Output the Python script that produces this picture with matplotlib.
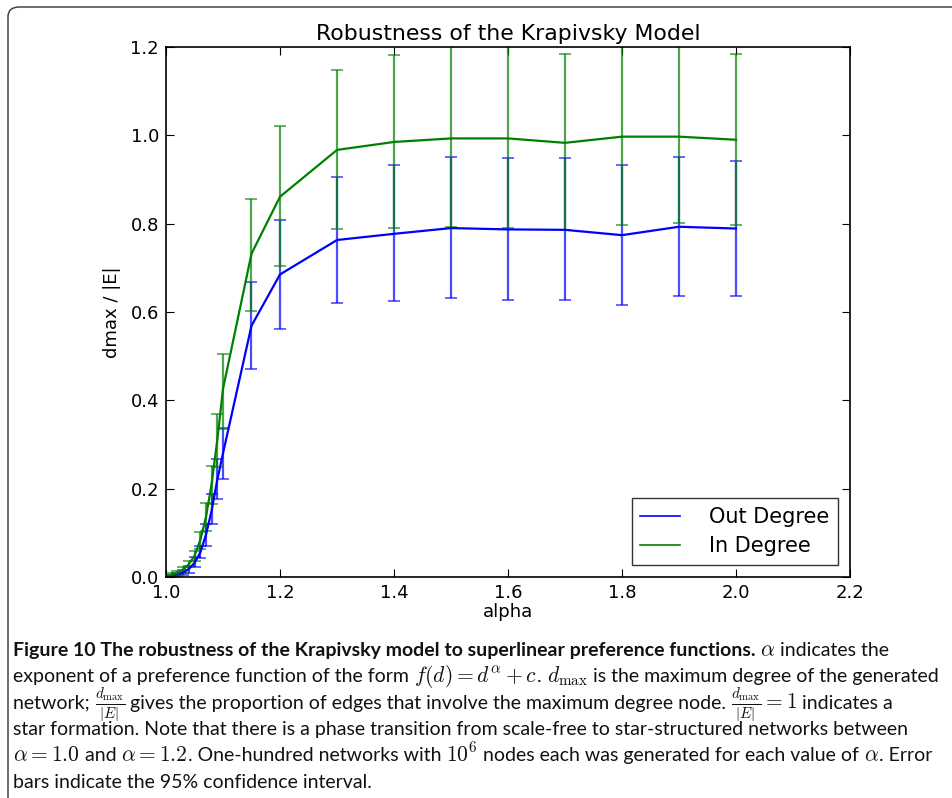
import matplotlib
matplotlib.use("Agg")
import matplotlib.pyplot as plt
from matplotlib.patches import FancyBboxPatch

# values
alpha = [1.00, 1.01, 1.02, 1.03, 1.04, 1.05, 1.06, 1.07, 1.08, 1.09, 1.10,
         1.15, 1.2, 1.3, 1.4, 1.5, 1.6, 1.7, 1.8, 1.9, 2.0]

out_mean = [0.001, 0.003, 0.006, 0.010, 0.018, 0.032, 0.055, 0.095, 0.150, 0.220, 0.280,
            0.569, 0.685, 0.763, 0.777, 0.790, 0.787, 0.786, 0.774, 0.793, 0.789]
out_lo = [0.000, 0.001, 0.003, 0.005, 0.010, 0.022, 0.042, 0.071, 0.120, 0.176, 0.222,
          0.472, 0.562, 0.621, 0.624, 0.632, 0.627, 0.627, 0.616, 0.637, 0.637]
out_hi = [0.002, 0.005, 0.009, 0.015, 0.026, 0.045, 0.071, 0.121, 0.187, 0.268, 0.337,
          0.667, 0.809, 0.905, 0.932, 0.951, 0.949, 0.949, 0.933, 0.951, 0.943]

in_mean = [0.002, 0.005, 0.009, 0.016, 0.029, 0.048, 0.083, 0.135, 0.210, 0.310, 0.426,
           0.732, 0.861, 0.967, 0.985, 0.993, 0.993, 0.983, 0.997, 0.997, 0.990]
in_lo = [0.000, 0.002, 0.004, 0.010, 0.022, 0.037, 0.064, 0.105, 0.166, 0.250, 0.336,
         0.602, 0.704, 0.787, 0.791, 0.793, 0.790, 0.785, 0.798, 0.801, 0.798]
in_hi = [0.004, 0.008, 0.014, 0.022, 0.037, 0.060, 0.103, 0.167, 0.252, 0.369, 0.505,
         0.856, 1.021, 1.148, 1.182, 1.21, 1.21, 1.185, 1.21, 1.21, 1.185]

x_ticks = [1.0, 1.2, 1.4, 1.6, 1.8, 2.0, 2.2]
y_ticks = [0.0, 0.2, 0.4, 0.6, 0.8, 1.0, 1.2]

caption_lines = [
    [("Figure 10 The robustness of the Krapivsky model to superlinear preference functions. ", "bold"),
     (r"$\alpha$", "normal"), (" indicates the", "normal")],
    [("exponent of a preference function of the form ", "normal"), (r"$f(d) = d^{\alpha} + c$", "normal"),
     (". ", "normal"), (r"$d_{\max}$", "normal"), (" is the maximum degree of the generated", "normal")],
    [("network; ", "normal"), (r"$\frac{d_{\max}}{|E|}$", "normal"),
     (" gives the proportion of edges that involve the maximum degree node. ", "normal"),
     (r"$\frac{d_{\max}}{|E|} = 1$", "normal"), (" indicates a", "normal")],
    [("star formation. Note that there is a phase transition from scale-free to star-structured networks between", "normal")],
    [(r"$\alpha = 1.0$", "normal"), (" and ", "normal"), (r"$\alpha = 1.2$", "normal"),
     (". One-hundred networks with ", "normal"), (r"$10^6$", "normal"),
     (" nodes each was generated for each value of ", "normal"), (r"$\alpha$", "normal"),
     (". Error", "normal")],
    [("bars indicate the 95% confidence interval.", "normal")],
]

plt.rcParams["mathtext.fontset"] = "cm"

W, H = 952, 798
fig = plt.figure(figsize=(W / 100, H / 100), dpi=100)

# rounded frame around figure + caption
frame = FancyBboxPatch((8 / W, -0.05), 1.2, 1.05 - 7 / H,
                       boxstyle="round,pad=0,rounding_size=0.012",
                       transform=fig.transFigure, facecolor="none",
                       edgecolor="#333333", linewidth=1.0)
fig.patches.append(frame)

ax = fig.add_axes([166 / W, 1 - 577 / H, 684 / W, 530 / H])

out_eb = ax.errorbar(alpha, out_mean,
                     yerr=[[m - l for m, l in zip(out_mean, out_lo)],
                           [h - m for m, h in zip(out_mean, out_hi)]],
                     color="#0000ff", ecolor="#0000ff", lw=1.6, elinewidth=1.6,
                     capsize=4, capthick=1.2)
in_eb = ax.errorbar(alpha, in_mean,
                    yerr=[[m - l for m, l in zip(in_mean, in_lo)],
                          [h - m for m, h in zip(in_mean, in_hi)]],
                    color="#008000", ecolor="#008000", lw=1.6, elinewidth=1.6,
                    capsize=4, capthick=1.2)
for c in (out_eb, in_eb):
    for part in c[2]:
        part.set_alpha(0.7)
    for cap in c[1]:
        cap.set_alpha(0.7)

ax.set_xlim(1.0, 2.2)
ax.set_ylim(0.0, 1.2)
ax.set_xticks(x_ticks)
ax.set_yticks(y_ticks)
ax.set_xticklabels([f"{v:.1f}" for v in x_ticks])
ax.set_yticklabels([f"{v:.1f}" for v in y_ticks])
ax.tick_params(direction="in", top=True, right=True, length=6, width=0.8,
               labelsize=13, pad=5)
for s in ax.spines.values():
    s.set_linewidth(1.2)
ax.set_title("Robustness of the Krapivsky Model", fontsize=15.8, pad=5)
ax.set_xlabel("alpha", fontsize=13, labelpad=1)
ax.set_ylabel("dmax / |E|", fontsize=13, labelpad=7)

leg = ax.legend([out_eb[0], in_eb[0]], ["Out Degree", "In Degree"],
                loc="lower right", fontsize=15, fancybox=False, handlelength=1.9,
                borderaxespad=0.6, handletextpad=1.4, labelspacing=0.45)
leg.get_frame().set_edgecolor("black")
leg.get_frame().set_linewidth(1.0)
for h in leg.legend_handles:
    h.set_linewidth(1.2)

# caption, drawn piece by piece so bold and regular can share a line
fig.canvas.draw()
renderer = fig.canvas.get_renderer()
cap_font = "Lato"
cap_size = 14.0
math_size = 15.5
y0 = 656
for i, line in enumerate(caption_lines):
    x = 13
    y = y0 + i * 26.3
    for txt, weight in line:
        size = math_size if txt.startswith("$") else cap_size
        t = fig.text(x / W, 1 - y / H, txt, fontsize=size, family=cap_font,
                     fontweight=weight, ha="left", va="baseline", color="#111111")
        x += t.get_window_extent(renderer).width

fig.savefig("out.png", dpi=100)
